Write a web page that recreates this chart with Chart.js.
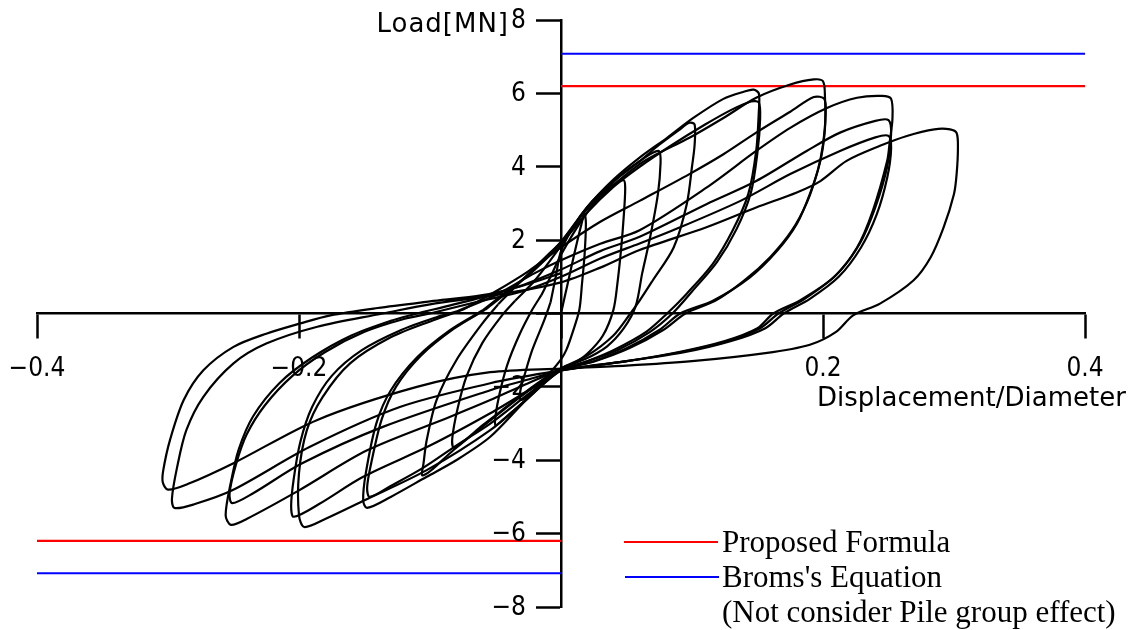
<!DOCTYPE html>
<html><head><meta charset="utf-8">
<script src="https://cdn.jsdelivr.net/npm/chart.js@4.4.1/dist/chart.umd.min.js"></script>
<style>
html,body{margin:0;padding:0;background:#fff;}
#wrap{position:relative;width:1132px;height:630px;overflow:hidden;}
canvas{position:absolute;left:0;top:0;}
.t{position:absolute;white-space:nowrap;color:#000;}
.ax{font-family:'DejaVu Sans',sans-serif;font-size:26px;line-height:26px;}
.lg{font-family:'Liberation Serif','Times New Roman',serif;font-size:31px;line-height:31px;}
.sw{position:absolute;height:2px;}
</style></head><body>
<div id="wrap">
<canvas id="c" width="1132" height="630"></canvas>
<div class="t ax" style="right:623px;top:10px;letter-spacing:1px">Load[MN]</div>
<div class="t ax" style="left:817px;top:384px">Displacement/Diameter</div>
<div class="sw" style="left:624px;top:541px;width:94px;background:#ff0000"></div>
<div class="sw" style="left:625px;top:576px;width:94px;background:#0000ff"></div>
<div class="t lg" style="left:722px;top:526px">Proposed Formula</div>
<div class="t lg" style="left:722px;top:561px">Broms's Equation</div>
<div class="t lg" style="left:722px;top:596px">(Not consider Pile group effect)</div>
</div>
<script>
// ---- axis ticks ----
const xTickValues = [-0.4, -0.2, 0, 0.2, 0.4];
const yTickValues = [-8, -6, -4, -2, 0, 2, 4, 6, 8];

// ---- reference capacities [MN] ----
const proposedUpper = [[0, 6.2], [0.4, 6.2]];
const proposedLower = [[-0.4, -6.2], [0, -6.2]];
const bromsUpper = [[0, 7.08], [0.4, 7.08]];
const bromsLower = [[-0.4, -7.08], [0, -7.08]];

// ---- measured load-displacement record, cycle by cycle [disp/diameter, load MN] ----
const cycle1 = [[0,0],[0.005,0.8],[0.01,1.6],[0.015,2.35],[0.018,2.72],[0.019,2.45],[0.018,1.6],[0.016,0.8],[0.014,0.1],[0.009,-0.5],[0.004,-1.0],[0,-1.25],[-0.008,-1.6],[-0.018,-2.0],[-0.027,-2.3],[-0.031,-2.35],[-0.031,-2.1],[-0.028,-1.7],[-0.022,-1.0],[-0.013,-0.2],[-0.008,0.3]];
const cycle2 = [[-0.008,0.3],[-0.004,1.0],[0,1.7],[0.01,2.4],[0.02,2.9],[0.032,3.3],[0.042,3.55],[0.048,3.63],[0.049,3.4],[0.048,2.7],[0.046,1.8],[0.043,0.8],[0.04,0.1],[0.032,-0.6],[0.02,-1.1],[0.01,-1.35],[0,-1.5],[-0.012,-1.85],[-0.025,-2.3],[-0.038,-2.7],[-0.046,-2.95],[-0.05,-3.05],[-0.05,-2.8],[-0.047,-2.2],[-0.041,-1.4],[-0.032,-0.6],[-0.022,0.1],[-0.015,0.5]];
const cycle3 = [[-0.015,0.5],[-0.008,1.0],[0,1.6],[0.015,2.5],[0.03,3.2],[0.045,3.75],[0.06,4.15],[0.07,4.38],[0.075,4.42],[0.076,4.1],[0.074,3.26],[0.068,2.07],[0.062,1.1],[0.057,0.2],[0.048,-0.4],[0.035,-0.9],[0.018,-1.25],[0,-1.5],[-0.02,-1.95],[-0.04,-2.5],[-0.06,-3.05],[-0.075,-3.5],[-0.082,-3.65],[-0.083,-3.4],[-0.079,-2.6],[-0.072,-1.7],[-0.06,-0.8],[-0.045,-0.05],[-0.035,0.35]];
const cycle4 = [[-0.035,0.35],[-0.02,0.9],[0,1.85],[0.02,2.9],[0.04,3.6],[0.06,4.15],[0.075,4.6],[0.09,5.0],[0.098,5.2],[0.102,5.15],[0.102,4.6],[0.1,4.0],[0.096,2.98],[0.086,1.8],[0.07,0.9],[0.06,0.35],[0.053,0],[0.04,-0.6],[0.02,-1.15],[0,-1.5],[-0.031,-2.27],[-0.057,-3.0],[-0.082,-3.72],[-0.1,-4.3],[-0.106,-4.41],[-0.105,-4.1],[-0.1025,-3.45],[-0.095,-2.36],[-0.08,-1.28],[-0.06,-0.27],[-0.048,0.25]];
const cycle5 = [[-0.048,0.25],[-0.03,0.9],[-0.01,1.6],[0,1.95],[0.02,2.9],[0.04,3.65],[0.06,4.25],[0.081,4.79],[0.101,5.33],[0.124,5.85],[0.14,6.05],[0.147,6.1],[0.151,6.0],[0.151,5.5],[0.149,4.43],[0.143,3.26],[0.131,2.26],[0.116,1.36],[0.096,0.54],[0.081,0],[0.065,-0.5],[0.04,-1.0],[0.02,-1.3],[0,-1.55],[-0.025,-2.3],[-0.054,-3.36],[-0.08,-4.0],[-0.1025,-4.45],[-0.13,-5.0],[-0.148,-5.3],[-0.151,-5.1],[-0.149,-4.35],[-0.141,-3.0],[-0.13,-2.1],[-0.11,-1.2],[-0.085,-0.46],[-0.06,0.08]];
const cycle6 = [[-0.06,0.08],[-0.045,0.5],[-0.02,1.2],[0,1.9],[0.02,2.75],[0.04,3.45],[0.06,4.0],[0.085,4.6],[0.11,5.15],[0.13,5.55],[0.145,5.78],[0.151,5.75],[0.152,5.3],[0.15,4.4],[0.145,3.3],[0.134,2.3],[0.119,1.4],[0.1,0.6],[0.085,0],[0.068,-0.5],[0.043,-1.0],[0.02,-1.3],[0,-1.55],[-0.025,-2.2],[-0.054,-3.0],[-0.08,-3.6],[-0.105,-4.2],[-0.13,-4.7],[-0.146,-5.0],[-0.148,-4.75],[-0.145,-4.1],[-0.137,-2.9],[-0.126,-2.0],[-0.107,-1.15],[-0.082,-0.42],[-0.058,0.1]];
const cycle7 = [[-0.058,0.1],[-0.04,0.6],[-0.02,1.2],[0,1.95],[0.02,2.85],[0.04,3.5],[0.06,4.07],[0.073,4.34],[0.098,4.79],[0.124,5.33],[0.149,5.88],[0.175,6.24],[0.193,6.38],[0.2,6.33],[0.2015,5.9],[0.2015,5.06],[0.198,4.16],[0.19,3.26],[0.18,2.44],[0.165,1.71],[0.144,0.98],[0.116,0.35],[0.091,0],[0.075,-0.45],[0.05,-0.95],[0.025,-1.3],[0,-1.55],[-0.025,-2.3],[-0.054,-3.18],[-0.1025,-4.27],[-0.15,-5.09],[-0.18,-5.6],[-0.196,-5.82],[-0.2,-5.5],[-0.2,-4.35],[-0.194,-3.18],[-0.182,-2.28],[-0.161,-1.36],[-0.13,-0.65],[-0.098,-0.19],[-0.075,0.1]];
const cycle8 = [[-0.075,0.1],[-0.05,0.6],[-0.025,1.15],[0,1.8],[0.03,2.5],[0.06,3.07],[0.098,3.8],[0.124,4.34],[0.149,4.93],[0.175,5.5],[0.193,5.9],[0.201,5.85],[0.202,5.4],[0.2,4.6],[0.196,3.9],[0.188,3.05],[0.176,2.25],[0.16,1.55],[0.14,0.9],[0.118,0.35],[0.095,0],[0.078,-0.45],[0.052,-0.95],[0.026,-1.3],[0,-1.55],[-0.025,-2.1],[-0.054,-2.72],[-0.1,-3.6],[-0.151,-4.45],[-0.185,-5.2],[-0.204,-5.54],[-0.206,-5.25],[-0.204,-4.5],[-0.199,-3.5],[-0.19,-2.55],[-0.175,-1.7],[-0.152,-1.0],[-0.122,-0.45],[-0.095,-0.1],[-0.08,0.05]];
const cycle9 = [[-0.08,0.05],[-0.05,0.5],[-0.02,1.1],[0,1.45],[0.03,1.9],[0.06,2.27],[0.111,3.43],[0.149,4.43],[0.175,5.06],[0.203,5.6],[0.226,5.88],[0.245,5.93],[0.252,5.85],[0.253,5.3],[0.251,4.7],[0.249,4.16],[0.238,2.8],[0.226,1.8],[0.208,0.98],[0.182,0.35],[0.162,0],[0.15,-0.4],[0.125,-0.75],[0.09,-1.05],[0.05,-1.3],[0,-1.55],[-0.025,-1.9],[-0.054,-2.36],[-0.085,-2.82],[-0.148,-3.73],[-0.2,-4.82],[-0.24,-5.6],[-0.252,-5.76],[-0.256,-5.5],[-0.252,-4.6],[-0.246,-3.7],[-0.235,-2.8],[-0.215,-1.9],[-0.19,-1.2],[-0.16,-0.6],[-0.13,-0.2],[-0.11,0]];
const cycle10 = [[-0.11,0],[-0.07,0.35],[-0.035,0.7],[0,1.2],[0.03,1.7],[0.06,2.09],[0.111,2.98],[0.149,3.61],[0.1875,4.43],[0.213,4.93],[0.24,5.25],[0.25,5.27],[0.252,4.9],[0.249,4.0],[0.24,2.9],[0.228,1.9],[0.21,1.05],[0.186,0.4],[0.166,0],[0.152,-0.4],[0.127,-0.75],[0.092,-1.05],[0.05,-1.3],[0,-1.55],[-0.025,-1.8],[-0.054,-2.09],[-0.136,-3.09],[-0.198,-4.09],[-0.235,-4.9],[-0.251,-5.17],[-0.253,-4.9],[-0.248,-4.1],[-0.24,-3.3],[-0.226,-2.5],[-0.205,-1.7],[-0.18,-1.05],[-0.15,-0.5],[-0.12,-0.15],[-0.1,0]];
const cycle11 = [[-0.1,0],[-0.06,0.35],[-0.03,0.6],[0,1.0],[0.03,1.5],[0.06,1.91],[0.085,2.26],[0.137,3.07],[0.175,3.8],[0.213,4.43],[0.24,4.8],[0.25,4.84],[0.252,4.5],[0.249,3.7],[0.241,2.7],[0.229,1.8],[0.212,1.0],[0.19,0.4],[0.17,0],[0.156,-0.4],[0.13,-0.75],[0.095,-1.05],[0.05,-1.3],[0,-1.55],[-0.025,-1.7],[-0.054,-1.9],[-0.123,-2.55],[-0.192,-3.64],[-0.251,-4.82],[-0.28,-5.2],[-0.295,-5.3],[-0.297,-5.05],[-0.293,-4.18],[-0.286,-3.18],[-0.273,-2.27],[-0.25,-1.36],[-0.225,-0.82],[-0.186,-0.36],[-0.136,0]];
const cycle12 = [[-0.136,0],[-0.1,0.25],[-0.05,0.5],[0,0.85],[0.03,1.25],[0.06,1.73],[0.111,2.35],[0.149,2.89],[0.18,3.3],[0.198,3.61],[0.218,4.16],[0.2435,4.57],[0.264,4.84],[0.285,5.02],[0.297,5.02],[0.302,4.92],[0.303,4.52],[0.302,3.8],[0.3,3.26],[0.292,2.34],[0.282,1.52],[0.269,0.9],[0.2435,0.27],[0.223,-0.05],[0.21,-0.5],[0.19,-0.85],[0.156,-1.08],[0.1,-1.3],[0.05,-1.42],[0,-1.5],[-0.054,-1.6],[-0.11,-2.0],[-0.186,-2.9],[-0.25,-4.08],[-0.285,-4.65],[-0.3,-4.8],[-0.304,-4.6],[-0.3036,-4.27],[-0.2985,-3.45],[-0.288,-2.36],[-0.273,-1.55],[-0.25,-0.91],[-0.225,-0.55],[-0.199,-0.27],[-0.176,-0.05],[-0.14,0.15],[-0.1,0.33],[-0.06,0.5],[-0.03,0.75],[0,1.1]];

const cycles = [cycle1, cycle2, cycle3, cycle4, cycle5, cycle6, cycle7, cycle8, cycle9, cycle10, cycle11, cycle12];

const TICK_FONT = "'DejaVu Sans Condensed', 'DejaVu Sans', sans-serif";
const TICK_SIZE = 26;
const fmt = v => (v < 0 ? '\u2212' : '') + Math.abs(v).toString();
const fmtX = v => (v < 0 ? '\u2212' : '') + Math.abs(v).toFixed(1);
const toXY = arr => arr.map(p => ({x: p[0], y: p[1]}));

const datasets = [];
cycles.forEach((c, i) => datasets.push({
  label: 'cycle ' + (i + 1), data: toXY(c), borderColor: '#000', borderWidth: 2.2,
  pointRadius: 0, tension: 0.3, fill: false
}));
[[proposedUpper, '#ff0000'], [proposedLower, '#ff0000'], [bromsUpper, '#0000ff'], [bromsLower, '#0000ff']].forEach(([d, col]) =>
  datasets.push({data: toXY(d), borderColor: col, borderWidth: 2.2, pointRadius: 0, tension: 0, fill: false}));

const zeroPad = s => { s.paddingLeft = 0; s.paddingRight = 0; s.paddingTop = 0; s.paddingBottom = 0; };

const yLabels = {
  id: 'yLabels',
  afterDraw(chart) {
    const ys = chart.scales.y, xs = chart.scales.x, ctx = chart.ctx;
    const x0 = xs.getPixelForValue(0);
    ctx.save();
    ctx.font = TICK_SIZE + 'px ' + TICK_FONT;
    ctx.fillStyle = '#000';
    ctx.textAlign = 'right';
    ctx.textBaseline = 'middle';
    yTickValues.forEach(v => { if (v !== 0) ctx.fillText(fmt(v), x0 - 35, ys.getPixelForValue(v) + 1); });
    ctx.restore();
  }
};

new Chart(document.getElementById('c'), {
  type: 'line',
  data: {datasets},
  plugins: [yLabels],
  options: {
    responsive: false, animation: false, events: [],
    layout: {padding: {left: 37, right: 47, top: 20, bottom: 23}},
    plugins: {legend: {display: false}, tooltip: {enabled: false}},
    scales: {
      x: {
        type: 'linear', position: {y: 0}, min: -0.4, max: 0.4,
        afterBuildTicks: s => { s.ticks = xTickValues.map(v => ({value: v})); },
        afterFit: zeroPad,
        grid: {drawOnChartArea: false, drawTicks: true, tickLength: 24, tickWidth: 2.5, tickColor: '#000'},
        border: {display: true, color: '#000', width: 2.5},
        ticks: {color: '#000', font: {family: TICK_FONT, size: TICK_SIZE}, padding: 16, maxRotation: 0, autoSkip: false,
          callback: v => (Math.abs(v) < 1e-9 ? '' : fmtX(v))}
      },
      y: {
        type: 'linear', position: {x: 0}, min: -8, max: 8,
        afterBuildTicks: s => { s.ticks = yTickValues.map(v => ({value: v})); },
        afterFit: zeroPad,
        grid: {drawOnChartArea: false, drawTicks: true, tickLength: 24, tickWidth: 2.5, tickColor: '#000'},
        border: {display: true, color: '#000', width: 2.5},
        ticks: {display: false}
      }
    }
  }
});
</script>
</body></html>
